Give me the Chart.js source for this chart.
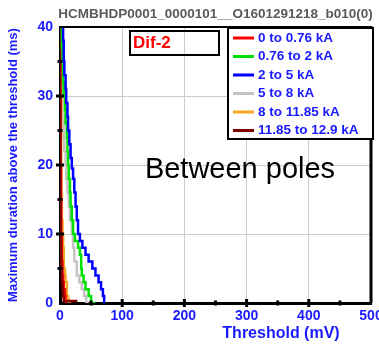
<!DOCTYPE html>
<html>
<head>
<meta charset="utf-8">
<script src="https://cdn.jsdelivr.net/npm/chart.js@4.4.1/dist/chart.umd.min.js"></script>
<style>
  html, body { margin: 0; padding: 0; background: #fff; }
  #wrap { width: 379px; height: 345px; }
</style>
</head>
<body>
<div id="wrap"><canvas id="chart" width="379" height="345"></canvas></div>
<script>
// chart texts
const chartTitle = 'HCMBHDP0001_0000101__O1601291218_b010(0)';
const xTitle = 'Threshold (mV)';
const yTitle = 'Maximum duration above the threshold (ms)';
const tagText = 'Dif-2';
const noteText = 'Between poles';

// series labels and colours
const seriesLabels = ['0 to 0.76 kA', '0.76 to 2 kA', '2 to 5 kA', '5 to 8 kA', '8 to 11.85 kA', '11.85 to 12.9 kA'];
const seriesColors = ['#ff0000', '#00e000', '#0000ff', '#c4c4c4', '#f5a623', '#800000'];

// threshold (mV) / duration (ms) pairs
const redX = [0.5, 1, 1.5, 2, 3, 4, 5, 6, 8, 9, 10];
const redY = [40, 30, 20, 15, 10, 6, 4, 3, 2, 1, 0];

const greenX = [3, 4, 5, 6, 8, 9, 11, 12, 13, 14, 16, 17, 19, 21, 24, 29, 32, 34, 35, 38, 41, 46, 50, 57];
const greenY = [40, 37, 35, 32, 30, 28, 26, 24, 22, 20, 18, 16, 14, 12, 10, 9, 8, 7, 5, 4, 3, 2, 1, 0];

const blueX = [5, 6, 7, 9, 10, 12, 13, 15, 17, 19, 21, 23, 25, 27, 29, 32, 36, 41, 46, 52, 57, 62, 66, 69, 71, 73];
const blueY = [40, 38, 35, 33, 31, 29, 27, 25, 23, 21, 19.5, 18, 16, 14, 12, 10, 9, 8, 7, 6, 5, 4, 3, 2, 1, 0];

const grayX = [1, 2, 3, 4, 6, 7, 9, 10, 12, 14, 16, 19, 21, 23, 27, 31, 35, 39, 42, 46];
const grayY = [40, 36, 33, 30, 27, 24, 22, 20, 18, 16, 14, 12, 10, 8, 6, 4, 3, 2, 1, 0];

const orangeX = [1, 1.5, 2, 2.5, 3, 4, 5, 6, 8, 9, 11, 13, 14, 18];
const orangeY = [40, 36, 30, 20, 16, 12, 10, 8, 5, 4, 3, 1, 0.5, 0];

const darkRedX = [0.3, 0.5, 0.8, 1, 1.5, 2, 3, 4, 5, 6, 7, 28];
const darkRedY = [40, 30, 20, 15, 10, 7, 5, 3, 2, 1, 0.3, 0.3];

// axis ticks
const xTicks = [0, 100, 200, 300, 400, 500];
const yTicks = [0, 10, 20, 30, 40];

const seriesX = [redX, greenX, blueX, grayX, orangeX, darkRedX];
const seriesY = [redY, greenY, blueY, grayY, orangeY, darkRedY];

const tickBlue = '#1a1aff';
const fontFamily = '"Liberation Sans", Arial, sans-serif';

function toPoints(xs, ys) {
    return xs.map((x, i) => ({ x: x, y: ys[i] }));
}

const datasets = seriesLabels.map((label, i) => ({
    label: label,
    data: toPoints(seriesX[i], seriesY[i]),
    borderColor: seriesColors[i],
    backgroundColor: seriesColors[i],
    borderWidth: 2.5,
    pointRadius: 0,
    showLine: true,
    stepped: 'after',
    fill: false
}));
// draw blue on top, like the original
const drawOrder = [3, 4, 0, 5, 1, 2];
drawOrder.forEach((idx, pos) => { datasets[idx].order = drawOrder.length - pos; });

// Extra drawing: title, axis titles, tag box, note and legend box
const decorations = {
    id: 'decorations',
    afterDraw(chart) {
        const c = chart.ctx;
        const a = chart.chartArea;
        c.save();

        // top and right frame
        c.strokeStyle = '#000';
        c.lineWidth = 2;
        c.beginPath();
        c.moveTo(a.left, a.top);
        c.lineTo(a.right, a.top);
        c.stroke();
        c.lineWidth = 3;
        c.beginPath();
        c.moveTo(a.right, a.top - 1);
        c.lineTo(a.right, a.bottom);
        c.stroke();

        // minor tick dots on the axes
        const xs = chart.scales.x, ys = chart.scales.y;
        c.fillStyle = '#000';
        for (let v = 50; v < 500; v += 50) {
            const px = xs.getPixelForValue(v);
            const big = v % 100 === 0;
            c.fillRect(px - 1.5, a.bottom - (big ? 4 : 2.5), 3, big ? 8 : 5);
        }
        for (let v = 5; v < 40; v += 5) {
            const py = ys.getPixelForValue(v);
            const big = v % 10 === 0;
            c.fillRect(a.left - (big ? 4 : 2.5), py - 1.5, big ? 8 : 5, 3);
        }

        // chart title
        c.fillStyle = '#5a5a5a';
        c.font = 'bold 13.5px ' + fontFamily;
        c.textAlign = 'center';
        c.textBaseline = 'middle';
        c.fillText(chartTitle, (a.left + a.right) / 2, 14);

        // axis titles
        c.fillStyle = tickBlue;
        c.font = 'bold 16px ' + fontFamily;
        c.fillText(xTitle, 281, 334);
        c.save();
        c.translate(13, 165);
        c.rotate(-Math.PI / 2);
        c.font = 'bold 13px ' + fontFamily;
        c.fillText(yTitle, 0, 0);
        c.restore();

        // Dif-2 tag
        c.strokeStyle = '#000';
        c.lineWidth = 2;
        c.strokeRect(130, 31, 89, 24);
        c.fillStyle = '#ff0000';
        c.font = 'bold 17px ' + fontFamily;
        c.textAlign = 'left';
        c.fillText(tagText, 133, 43);

        // note
        c.fillStyle = '#000';
        c.font = '29px ' + fontFamily;
        c.textAlign = 'center';
        c.textBaseline = 'alphabetic';
        c.fillText(noteText, 240, 178);
        c.textBaseline = 'middle';

        // legend box
        c.fillStyle = '#fff';
        c.fillRect(228, 28, 145, 111);
        c.strokeStyle = '#000';
        c.lineWidth = 2;
        c.strokeRect(228, 28, 145, 111);
        c.font = 'bold 13.5px ' + fontFamily;
        c.textAlign = 'left';
        chart.data.datasets.forEach((ds, i) => {
            const y = 38 + i * 18.5;
            c.strokeStyle = ds.borderColor;
            c.lineWidth = 3;
            c.beginPath();
            c.moveTo(233, y);
            c.lineTo(254, y);
            c.stroke();
            c.fillStyle = tickBlue;
            c.fillText(ds.label, 258, y);
        });

        c.restore();
    }
};

const ctx = document.getElementById('chart').getContext('2d');
const myChart = new Chart(ctx, {
    type: 'scatter',
    data: { datasets: datasets },
    options: {
        responsive: false,
        animation: false,
        layout: { padding: { top: 27, right: 8, left: 0, bottom: 0 } },
        plugins: {
            legend: { display: false },
            title: { display: false },
            tooltip: { enabled: false }
        },
        scales: {
            x: {
                type: 'linear',
                min: 0,
                max: 500,
                afterBuildTicks: (scale) => { scale.ticks = xTicks.map(v => ({ value: v })); },
                afterFit: (scale) => { scale.height = 42; scale.paddingLeft = 0; scale.paddingRight = 0; },
                ticks: {
                    color: tickBlue,
                    font: { family: fontFamily, size: 14, weight: 'bold' },
                    padding: 5,
                    maxRotation: 0
                },
                grid: { color: '#cccccc', lineWidth: 1, drawTicks: false },
                border: { display: true, color: '#000', width: 3 }
            },
            y: {
                type: 'linear',
                min: 0,
                max: 40,
                afterBuildTicks: (scale) => { scale.ticks = yTicks.map(v => ({ value: v })); },
                afterFit: (scale) => { scale.width = 60; scale.paddingTop = 0; scale.paddingBottom = 0; },
                ticks: {
                    color: tickBlue,
                    font: { family: fontFamily, size: 14, weight: 'bold' },
                    padding: 7
                },
                grid: { color: '#cccccc', lineWidth: 1, drawTicks: false },
                border: { display: true, color: '#000', width: 3 }
            }
        }
    },
    plugins: [decorations]
});
</script>
</body>
</html>
